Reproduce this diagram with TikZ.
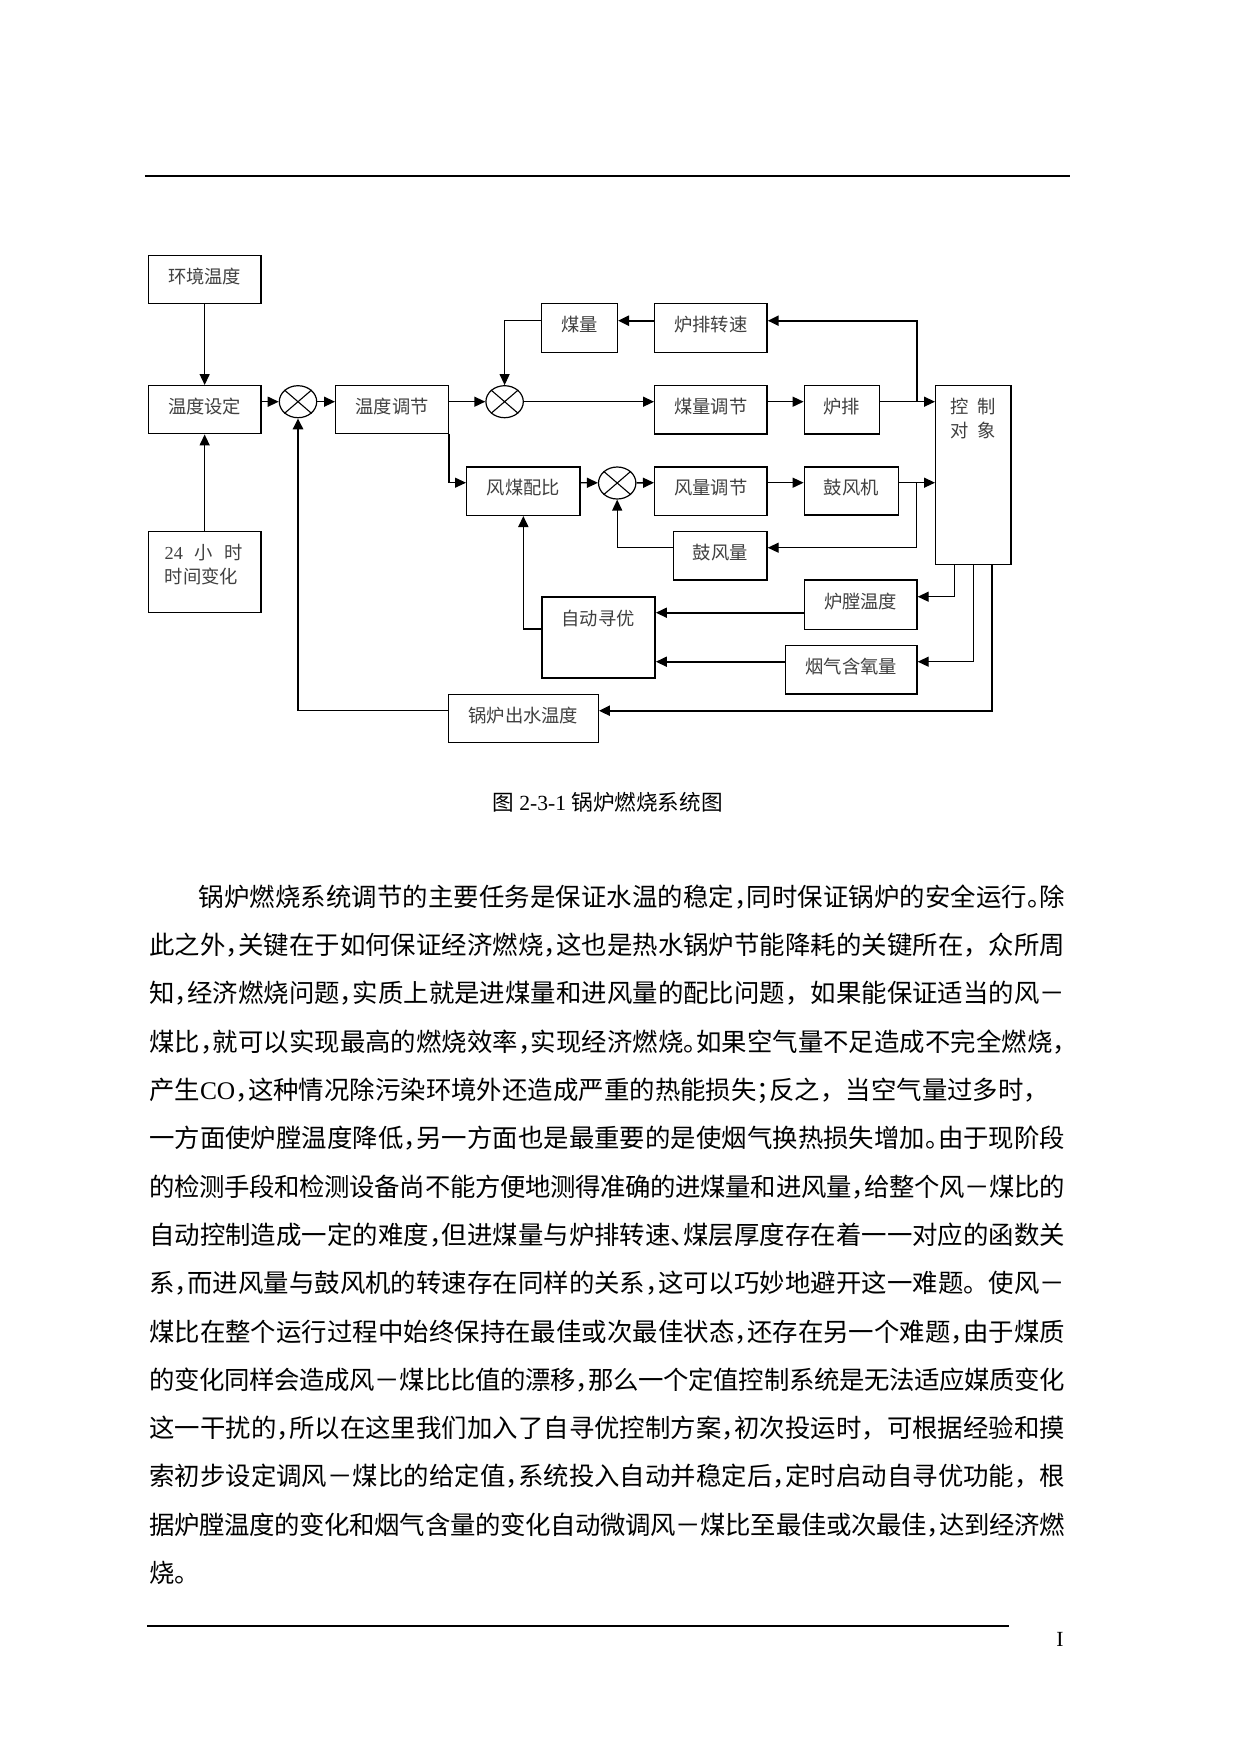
\documentclass[tikz,border=0pt]{standalone}
\usepackage{fontspec}
\setmainfont{Liberation Serif}
\newfontfamily\cjk{Noto Sans CJK SC}
\newfontfamily\cjkh[RawFeature=+halt]{Noto Sans CJK SC}
\usetikzlibrary{arrows.meta,shapes.geometric}
\XeTeXlinebreaklocale "zh"
\XeTeXlinebreakskip=0pt plus 3pt minus 2pt
\newcommand\latn[1]{{\rmfamily #1}}
\newcommand\hp[1]{{\cjkh #1}}
\newcommand\lblfont{\cjk\fontsize{18.3pt}{22pt}\selectfont}
\newcommand\bodyfont{\cjk\fontsize{25.4pt}{30pt}\selectfont}
\newcommand\bline[4]{\node[anchor=base west, inner sep=0pt, text width=#3pt, align=justify, font=\bodyfont] (#1) at (149,#2) {\noindent\parfillskip=0pt\relax #4\par};}
\begin{document}
\begin{tikzpicture}[x=1pt,y=-1pt,
 box/.style={draw, line width=1.4pt, inner sep=0pt, text height=12pt, text depth=5pt, font=\lblfont, text=black!75},
 sumj/.style={ellipse, draw, line width=1.2pt, minimum width=37.4pt, minimum height=32pt, inner sep=0pt},
 conn/.style={line width=1.4pt, -{Triangle[length=11pt,width=10pt]}},
 thk/.style={line width=2.2pt},
 lbl/.style={font=\lblfont, text=black!75, inner sep=0pt, anchor=base},
]
\fill[white] (0,0) rectangle (1241,1754);
\useasboundingbox (0,0) rectangle (1241,1754);

% header rule
\draw[line width=2pt] (144.8,175.7) -- (1070,175.7);

% boxes
\node[box,minimum width=112.7pt,minimum height=48.4pt] (hj) at (204.65,279.5) {环境温度};
\node[box,minimum width=112.7pt,minimum height=48pt] (wdsd) at (204.65,409.7) {温度设定};
\node[box,minimum width=112.7pt,minimum height=81pt] (t24) at (204.65,572.2) {};
\node[box,minimum width=112.6pt,minimum height=48pt] (wdtj) at (392,409.7) {温度调节};
\node[box,minimum width=75.6pt,minimum height=49.4pt] (ml) at (579.5,328) {煤量};
\node[box,minimum width=112.3pt,minimum height=49.4pt] (lpzs) at (710.85,328) {炉排转速};
\node[box,minimum width=112.3pt,minimum height=48.3pt] (mltj) at (710.85,409.85) {煤量调节};
\node[box,minimum width=75pt,minimum height=48.3pt] (lp) at (841.8,409.85) {炉排};
\node[box,minimum width=113.3pt,minimum height=48.3pt] (fmpb) at (523.35,491.15) {风煤配比};
\node[box,minimum width=112.3pt,minimum height=48.3pt] (fltj) at (710.85,491.15) {风量调节};
\node[box,minimum width=94pt,minimum height=48pt] (gfj) at (851.3,491) {鼓风机};
\node[box,minimum width=93.7pt,minimum height=48.3pt] (gfl) at (720.15,555.85) {鼓风量};
\node[box,minimum width=75.3pt,minimum height=178.6pt] (kz) at (973.35,475) {};
\node[box,minimum width=112.7pt,minimum height=49.3pt] (ltwd) at (860.65,604.65) {炉膛温度};
\node[box,minimum width=131.3pt,minimum height=48.3pt] (yqhy) at (851.35,669.85) {烟气含氧量};
\node[box,minimum width=113.3pt,minimum height=81.6pt,line width=1.7pt] (zdxy) at (598.35,637.5) {};
\node[box,minimum width=150pt,minimum height=48.4pt,line width=1.2pt] (glcs) at (523.3,718.5) {锅炉出水温度};

% labels placed inside boxes
\node[lbl,anchor=base west] (t24a) at (164.5,559.3) {\makebox[78.5pt][s]{\latn{24}\hfill 小\hfill 时}};
\node[lbl,anchor=base west] (t24b) at (164.5,583.7) {时间变化};
\node[lbl] (kz1) at (973.5,413.7) {控\hspace{8.7pt}制};
\node[lbl] (kz2) at (973.5,437) {对\hspace{8.7pt}象};
\node[lbl] (zdxyt) at (598,625.3) {自动寻优};

% summing junctions
\node[sumj] (s1) at (298,401.7) {};
\node[sumj] (s2) at (504.6,401.7) {};
\node[sumj] (s3) at (617.2,483) {};
\foreach \s in {s1,s2,s3}{\draw[line width=1.1pt] (\s.north west) -- (\s.south east) (\s.north east) -- (\s.south west);}

% helper coordinates
\coordinate (r0) at (0,320.7);
\coordinate (r1) at (0,401.7);
\coordinate (r2) at (0,482.7);
\coordinate (r3) at (0,547.7);
\coordinate (r4) at (0,596.7);
\coordinate (r5) at (0,661.7);
\coordinate (r6) at (0,710.7);
\coordinate (r7) at (0,612.7);
\coordinate (r8) at (0,629.3);
\coordinate (xb) at (916.7,0);
\coordinate (k1) at (954.3,0);
\coordinate (k2) at (973.3,0);
\coordinate (k3) at (992,0);

% connectors
\draw[conn] (hj) -- (wdsd);
\draw[conn] (t24) -- (wdsd);
\draw[conn] (wdsd.east |- r1) -- (s1);
\draw[conn] (s1) -- (wdtj.west |- r1);
\draw[conn] (wdtj.east |- r1) -- (s2);
\draw[conn] (s2) -- (mltj.west |- r1);
\draw[conn] (mltj.east |- r1) -- (lp.west |- r1);
\draw[conn] (lp.east |- r1) -- (kz.west |- r1);
\draw[conn,thk] (xb |- r1) -- (xb |- r0) -- (lpzs.east |- r0);
\draw[conn,thk] (lpzs.west |- r0) -- (ml.east |- r0);
\draw[conn,line width=1.1pt] (ml.west |- r0) -| (s2);
\draw[conn,line width=1.1pt] (wdtj.south east) |- (fmpb.west |- r2);
\draw[conn] (fmpb.east |- r2) -- (s3);
\draw[conn] (s3) -- (fltj.west |- r2);
\draw[conn] (fltj.east |- r2) -- (gfj.west |- r2);
\draw[conn] (gfj.east |- r2) -- (kz.west |- r2);
\draw[conn] (xb |- r2) -- (xb |- r3) -- (gfl.east |- r3);
\draw[conn] (gfl.west |- r3) -| (s3);
\draw[conn] (kz.south -| k1) |- (ltwd.east |- r4);
\draw[conn] (kz.south -| k2) |- (yqhy.east |- r5);
\draw[conn,thk] (kz.south -| k3) |- (glcs.east |- r6);
\draw[conn,line width=1.7pt] (ltwd.west |- r7) -- (zdxy.east |- r7);
\draw[conn,line width=1.7pt] (yqhy.west |- r5) -- (zdxy.east |- r5);
\draw[conn,line width=1.7pt] (zdxy.west |- r8) -| (fmpb.south);
\draw[line width=1.2pt] (glcs.west |- r6) -- (s1 |- r6);
\draw[conn,line width=2.6pt] (s1 |- r6) -- (s1);

% caption
\node[anchor=base, inner sep=0pt, font=\cjk\fontsize{21.6pt}{26pt}\selectfont] (cap) at (607.5,810.7) {图\latn{ 2-3-1 }锅炉燃烧系统图};

% body text
\bline{b1}{906.35}{916}{\hspace*{49.5pt}锅炉燃烧系统调节的主要任务是保证水温的稳定\hp{，}同时保证锅炉的安全运行\hp{。}除}
\bline{b2}{954.65}{916}{此之外\hp{，}关键在于如何保证经济燃烧\hp{，}这也是热水锅炉节能降耗的关键所在，众所周}
\bline{b3}{1002.95}{916}{知\hp{，}经济燃烧问题\hp{，}实质上就是进煤量和进风量的配比问题，如果能保证适当的风－}
\bline{b4}{1051.25}{916}{煤比\hp{，}就可以实现最高的燃烧效率\hp{，}实现经济燃烧\hp{。}如果空气量不足造成不完全燃烧\hp{，}}
\bline{b5}{1099.55}{900}{产生\latn{CO}\hp{，}这种情况除污染环境外还造成严重的热能损失\hp{；}反之，当空气量过多时，}
\bline{b6}{1147.85}{916}{一方面使炉膛温度降低\hp{，}另一方面也是最重要的是使烟气换热损失增加\hp{。}由于现阶段}
\bline{b7}{1196.15}{916}{的检测手段和检测设备尚不能方便地测得准确的进煤量和进风量\hp{，}给整个风－煤比的}
\bline{b8}{1244.45}{916}{自动控制造成一定的难度\hp{，}但进煤量与炉排转速\hp{、}煤层厚度存在着一一对应的函数关}
\bline{b9}{1292.75}{916}{系\hp{，}而进风量与鼓风机的转速存在同样的关系\hp{，}这可以巧妙地避开这一难题。使风－}
\bline{b10}{1341.05}{916}{煤比在整个运行过程中始终保持在最佳或次最佳状态\hp{，}还存在另一个难题\hp{，}由于煤质}
\bline{b11}{1389.35}{916}{的变化同样会造成风－煤比比值的漂移\hp{，}那么一个定值控制系统是无法适应媒质变化}
\bline{b12}{1437.65}{916}{这一干扰的\hp{，}所以在这里我们加入了自寻优控制方案\hp{，}初次投运时，可根据经验和摸}
\bline{b13}{1485.95}{916}{索初步设定调风－煤比的给定值\hp{，}系统投入自动并稳定后\hp{，}定时启动自寻优功能，根}
\bline{b14}{1534.25}{916}{据炉膛温度的变化和烟气含量的变化自动微调风－煤比至最佳或次最佳\hp{，}达到经济燃}
\node[anchor=base west, inner sep=0pt, font=\bodyfont] (b15) at (149,1582.55) {烧。};

% footer
\draw[line width=2pt] (147.4,1625.7) -- (1009.3,1625.7);
\node[anchor=base, inner sep=0pt, font=\fontsize{21.6pt}{26pt}\selectfont] (pg) at (1060,1646.5) {I};
\end{tikzpicture}
\end{document}
